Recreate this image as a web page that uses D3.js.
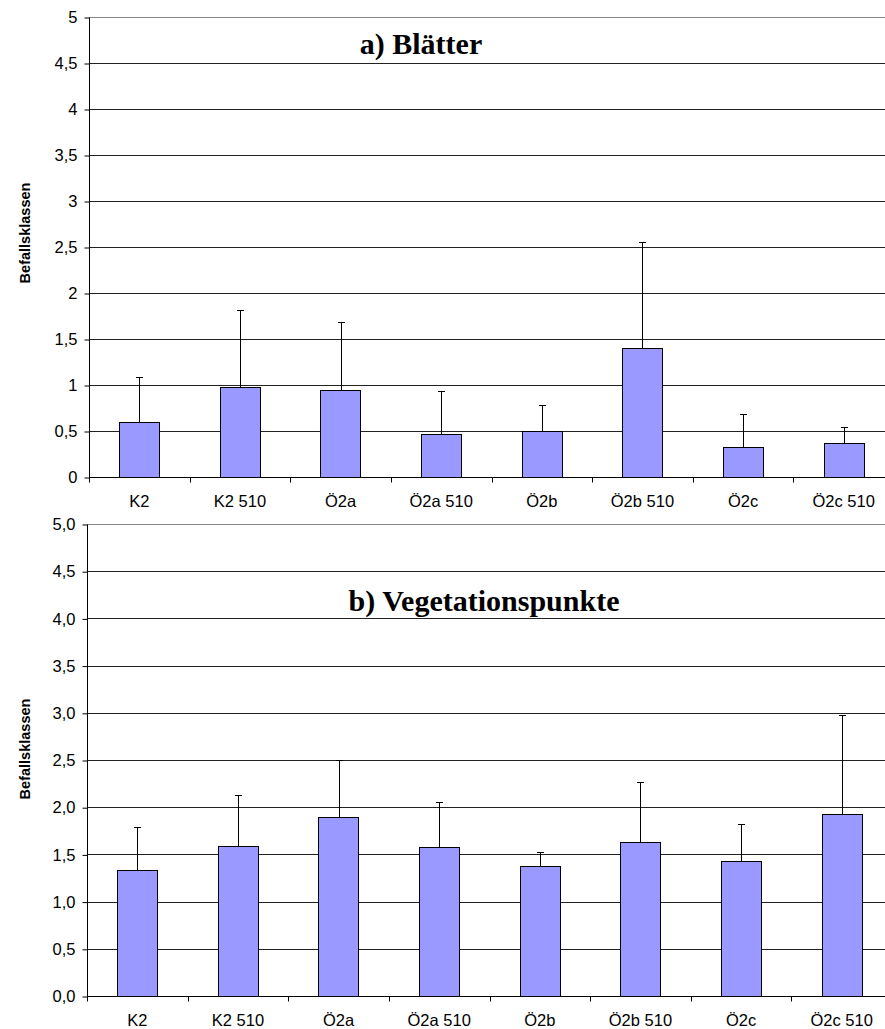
<!DOCTYPE html>
<html>
<head>
<meta charset="utf-8">
<script src="https://cdn.jsdelivr.net/npm/d3@7"></script>
<style>
  html, body { margin: 0; padding: 0; background: #fff; }
  svg { display: block; }
</style>
</head>
<body>
<svg id="chart" width="885" height="1029"></svg>
<script>
// Treatment groups on the x axis
const categories = ["K2", "K2 510", "Ö2a", "Ö2a 510", "Ö2b", "Ö2b 510", "Ö2c", "Ö2c 510"];

// a) Blätter: mean infestation class and standard deviation
const leavesMean = [0.60, 0.975, 0.95, 0.47, 0.50, 1.40, 0.33, 0.375];
const leavesSd   = [0.49, 0.84, 0.73, 0.46, 0.28, 1.15, 0.36, 0.165];

// b) Vegetationspunkte: mean infestation class and standard deviation
const budsMean = [1.33, 1.59, 1.90, 1.58, 1.375, 1.63, 1.425, 1.93];
const budsSd   = [0.46, 0.54, 0.60, 0.475, 0.15, 0.64, 0.40, 1.05];

// Y tick labels for each panel
const leavesTicks = [0, 0.5, 1, 1.5, 2, 2.5, 3, 3.5, 4, 4.5, 5];
const leavesTickLabels = ["0", "0,5", "1", "1,5", "2", "2,5", "3", "3,5", "4", "4,5", "5"];
const budsTicks = [0, 0.5, 1, 1.5, 2, 2.5, 3, 3.5, 4, 4.5, 5];
const budsTickLabels = ["0,0", "0,5", "1,0", "1,5", "2,0", "2,5", "3,0", "3,5", "4,0", "4,5", "5,0"];

const yTitle = "Befallsklassen";

const svg = d3.select("#chart");

function drawPanel(opts) {
  const { left, top, bottom, width, means, sds, ticks, tickLabels, title, titleX, titleY, yTitleY } = opts;
  const g = svg.append("g");

  const x = d3.scaleBand().domain(categories).range([left, left + width]).paddingInner(0).paddingOuter(0);
  const y = d3.scaleLinear().domain([0, 5]).range([bottom, top]);

  // horizontal grid lines
  g.append("g").selectAll("line").data(ticks.filter(t => t > 0)).join("line")
    .attr("x1", left).attr("x2", left + width)
    .attr("y1", d => Math.round(y(d)) + 0.5).attr("y2", d => Math.round(y(d)) + 0.5)
    .attr("stroke", d => d === 5 ? "#888" : "#222").attr("stroke-width", 1);

  // bars
  const bw = x.bandwidth() * 0.4;
  g.append("g").selectAll("rect").data(means).join("rect")
    .attr("x", (d, i) => Math.round(x(categories[i]) + x.bandwidth() / 2 - bw / 2) + 0.5)
    .attr("y", d => Math.round(y(d)) + 0.5)
    .attr("width", Math.round(bw))
    .attr("height", d => Math.round(y(0)) - Math.round(y(d)))
    .attr("fill", "#9999ff").attr("stroke", "#000").attr("stroke-width", 1);

  // upper error whiskers
  const eb = g.append("g").attr("stroke", "#000").attr("stroke-width", 1);
  means.forEach((m, i) => {
    const cx = Math.round(x(categories[i]) + x.bandwidth() / 2) + 0.5;
    const yTop = Math.round(y(m + sds[i])) + 0.5;
    eb.append("line").attr("x1", cx).attr("x2", cx).attr("y1", Math.round(y(m))).attr("y2", yTop);
    eb.append("line").attr("x1", cx - 3.5).attr("x2", cx + 3.5).attr("y1", yTop).attr("y2", yTop);
  });

  // y axis
  const yAxis = d3.axisLeft(y).tickValues(ticks)
    .tickFormat((d, i) => tickLabels[i]).tickSize(5).tickPadding(7);
  const ya = g.append("g").attr("transform", `translate(${left + 0.5},0.5)`).call(yAxis);
  ya.select(".domain").attr("stroke", "#000").attr("d", `M0,${top}V${Math.round(bottom)}`);
  ya.selectAll(".tick line").attr("stroke", "#000");
  ya.selectAll(".tick text").attr("font-family", "Liberation Sans, Arial, sans-serif")
    .attr("font-size", 16.5).attr("fill", "#000");

  // x axis: ticks sit on the category boundaries
  const xa = g.append("g").attr("transform", `translate(0,${Math.round(bottom) + 0.5})`);
  xa.append("line").attr("x1", left).attr("x2", left + width).attr("y1", 0).attr("y2", 0).attr("stroke", "#000");
  xa.selectAll("line.tk").data(categories).join("line").attr("class", "tk")
    .attr("x1", d => Math.round(x(d)) + 0.5).attr("x2", d => Math.round(x(d)) + 0.5)
    .attr("y1", 0).attr("y2", 5).attr("stroke", "#000");
  xa.selectAll("text").data(categories).join("text")
    .attr("x", d => x(d) + x.bandwidth() / 2).attr("y", 29)
    .attr("text-anchor", "middle")
    .attr("font-family", "Liberation Sans, Arial, sans-serif").attr("font-size", 16.5)
    .text(d => d);

  // y axis title
  g.append("text")
    .attr("transform", `translate(30,${yTitleY}) rotate(-90)`)
    .attr("text-anchor", "middle")
    .attr("font-family", "Liberation Sans, Arial, sans-serif").attr("font-weight", "bold")
    .attr("font-size", 14.5).text(yTitle);

  // panel title
  g.append("text").attr("x", titleX).attr("y", titleY).attr("text-anchor", "middle")
    .attr("font-family", "Liberation Serif, Times New Roman, serif").attr("font-weight", "bold")
    .attr("font-size", 30).text(title);
}

drawPanel({
  left: 89, top: 17, bottom: 477, width: 805,
  means: leavesMean, sds: leavesSd, ticks: leavesTicks, tickLabels: leavesTickLabels,
  title: "a) Blätter", titleX: 421, titleY: 54, yTitleY: 233
});

drawPanel({
  left: 87, top: 524, bottom: 996, width: 805,
  means: budsMean, sds: budsSd, ticks: budsTicks, tickLabels: budsTickLabels,
  title: "b) Vegetationspunkte", titleX: 484, titleY: 611, yTitleY: 749
});
</script>
</body>
</html>
